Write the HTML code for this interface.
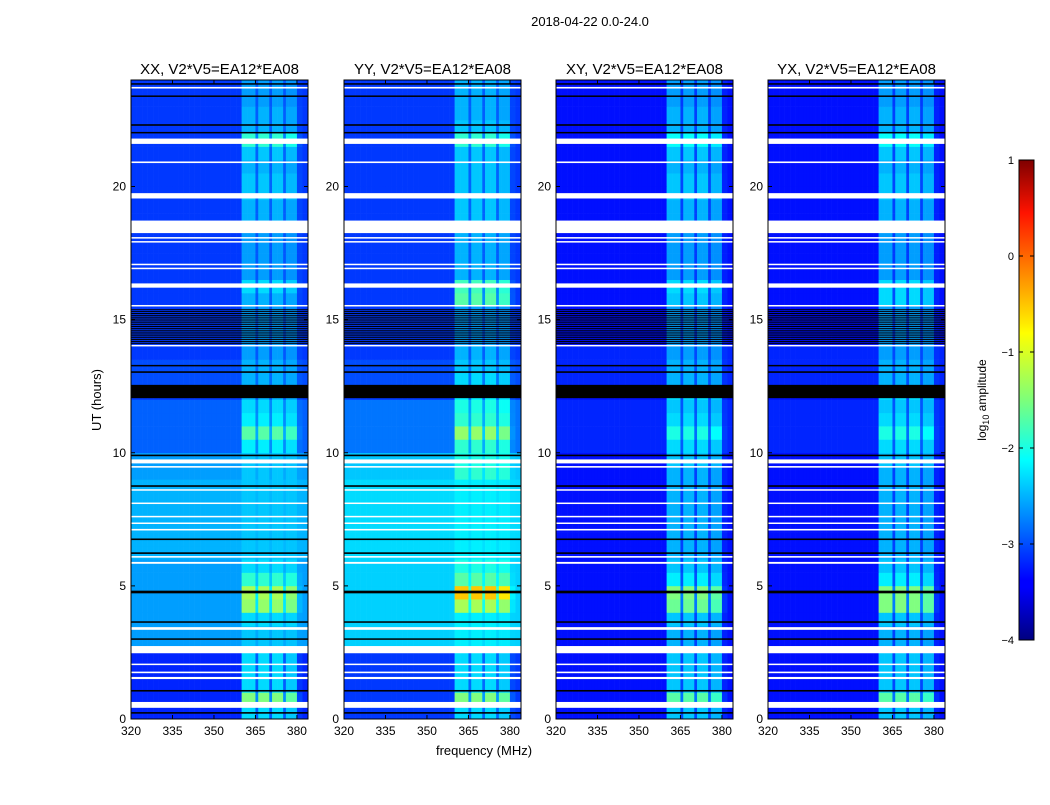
<!DOCTYPE html>
<html><head><meta charset="utf-8"><style>
body{margin:0;background:#fff;width:1050px;height:800px;overflow:hidden;font-family:"Liberation Sans",sans-serif}
</style></head><body>
<svg id="root" width="1050" height="800" xmlns="http://www.w3.org/2000/svg" font-family="Liberation Sans, sans-serif">
<rect width="1050" height="800" fill="#fff"/>
<text x="590" y="26" font-size="13" text-anchor="middle">2018-04-22 0.0-24.0</text>
<text transform="translate(101,400) rotate(-90)" font-size="13" text-anchor="middle">UT (hours)</text>
<text x="484" y="755" font-size="13" text-anchor="middle">frequency (MHz)</text>
<g id="panels"></g>
<defs><linearGradient id="jet" x1="0" y1="1" x2="0" y2="0">
<stop offset="0" stop-color="#00007f"/><stop offset="0.11" stop-color="#0000ff"/><stop offset="0.125" stop-color="#0000ff"/><stop offset="0.34" stop-color="#00dcff"/><stop offset="0.375" stop-color="#00ffff"/><stop offset="0.5" stop-color="#7dff7a"/><stop offset="0.64" stop-color="#ffff00"/><stop offset="0.66" stop-color="#ffea00"/><stop offset="0.89" stop-color="#ff1300"/><stop offset="1" stop-color="#7f0000"/></linearGradient></defs>
<rect x="1019" y="160" width="15" height="480" fill="url(#jet)" stroke="#000" stroke-width="1"/>
<text transform="translate(986,400) rotate(-90)" font-size="12" text-anchor="middle">log<tspan font-size="9" dy="3">10</tspan><tspan dy="-3"> amplitude</tspan></text>
<g id="cbticks"></g>
</svg>
<script>
const panelTitles=["XX, V2*V5=EA12*EA08","YY, V2*V5=EA12*EA08","XY, V2*V5=EA12*EA08","YX, V2*V5=EA12*EA08"];
const freqTicks=[320,335,350,365,380];
const timeTicks=[0,5,10,15,20];
const cbTicks=[1,0,-1,-2,-3,-4];
const bandProfile=[0,0,0,0,0,0,0,0,0,0,0,0,0,0,0,0,0,0,0,0,0,0,0,0,0,0,0,0,0,0,0,0,0,0,0,0,0,0,0,0,1,1,1,1,1,0.3,1,1,1,1,0.3,1,1,1,1,0.3,0.9,0.9,0.9,0.9,0.1,0.1,0,0];
const baseXX=[-3.2,-3.2,-3.2,-3.2,-3.2,-2.6,-2.6,-2.6,-2.6,-2.6,-2.6,-2.6,-2.5,-2.5,-2.5,-2.5,-2.5,-2.5,-2.6,-2.6,-2.9,-2.9,-2.9,-2.9,-3.1,-3.0,-3.0,-3.1,-3.1,-3.1,-3.1,-3.1,-3.1,-3.1,-3.1,-3.1,-3.1,-3.1,-3.1,-3.1,-3.1,-3.1,-3.1,-3.1,-3.1,-3.1,-3.1,-3.1];
const bandXX=[-2.3,-1.5,-2.3,-2.3,-2.3,-2.4,-2.4,-2.3,-1.4,-1.3,-1.9,-2.3,-2.4,-2.4,-2.4,-2.4,-2.4,-2.4,-2.4,-2.4,-2.2,-1.7,-2.2,-2.3,-2.5,-2.5,-2.5,-2.6,-2.6,-2.6,-2.6,-2.5,-2.3,-2.6,-2.6,-2.6,-2.6,-2.5,-2.5,-2.4,-2.4,-2.5,-2.4,-1.9,-2.5,-2.5,-2.6,-2.6];
const baseYY=[-3.1,-3.1,-3.1,-3.1,-3.1,-2.35,-2.35,-2.35,-2.35,-2.35,-2.35,-2.35,-2.3,-2.3,-2.3,-2.3,-2.3,-2.3,-2.4,-2.4,-2.8,-2.8,-2.8,-2.8,-3.1,-3.0,-3.0,-3.1,-3.1,-3.1,-3.1,-3.1,-3.1,-3.1,-3.1,-3.1,-3.1,-3.1,-3.1,-3.1,-3.1,-3.1,-3.1,-3.1,-3.1,-3.1,-3.1,-3.1];
const bandYY=[-2.3,-1.5,-2.3,-2.3,-2.3,-2.2,-2.2,-2.2,-1.3,-0.6,-1.7,-2.0,-2.2,-2.2,-2.2,-2.2,-2.2,-2.2,-1.9,-2.0,-1.9,-1.4,-1.9,-2.0,-2.2,-2.3,-2.4,-2.5,-2.6,-2.6,-2.6,-1.7,-1.8,-2.5,-2.5,-2.5,-2.5,-2.4,-2.4,-2.4,-2.4,-2.4,-2.4,-1.9,-2.4,-2.5,-2.5,-2.5];
const baseXY=[-3.3,-3.3,-3.3,-3.3,-3.3,-3.3,-3.3,-3.3,-3.3,-3.3,-3.3,-3.3,-3.3,-3.3,-3.3,-3.3,-3.3,-3.3,-3.3,-3.3,-3.2,-3.2,-3.2,-3.2,-3.3,-3.2,-3.2,-3.2,-3.3,-3.3,-3.3,-3.3,-3.3,-3.3,-3.3,-3.3,-3.3,-3.3,-3.3,-3.3,-3.3,-3.3,-3.3,-3.3,-3.3,-3.3,-3.3,-3.3];
const bandXY=[-2.4,-1.7,-2.4,-2.4,-2.4,-2.5,-2.5,-2.4,-1.6,-1.5,-2.2,-2.4,-2.5,-2.5,-2.5,-2.5,-2.5,-2.5,-2.5,-2.4,-2.3,-2.0,-2.3,-2.4,-2.3,-2.5,-2.5,-2.6,-2.6,-2.6,-2.6,-2.4,-2.3,-2.6,-2.6,-2.6,-2.6,-2.5,-2.5,-2.4,-2.4,-2.5,-2.4,-2.1,-2.5,-2.5,-2.6,-2.6];
const baseYX=baseXY;
const bandYX=[-2.4,-1.7,-2.4,-2.4,-2.4,-2.5,-2.5,-2.4,-1.5,-1.5,-2.2,-2.4,-2.5,-2.5,-2.5,-2.5,-2.5,-2.5,-2.5,-2.4,-2.3,-2.0,-2.3,-2.4,-2.3,-2.5,-2.5,-2.6,-2.6,-2.6,-2.6,-2.3,-2.3,-2.6,-2.6,-2.6,-2.6,-2.5,-2.5,-2.4,-2.4,-2.5,-2.4,-2.1,-2.5,-2.5,-2.6,-2.6];
const bases=[baseXX,baseYY,baseXY,baseYX];
const bands=[bandXX,bandYY,bandXY,bandYX];
const whiteGaps=[[0.42,0.64],[1.5,1.58],[1.72,1.78],[2.03,2.08],[2.47,2.74],[3.35,3.45],[5.83,5.9],[6.06,6.12],[7.08,7.14],[7.33,7.38],[7.58,7.63],[8.08,8.13],[8.58,8.63],[9.44,9.5],[9.6,9.75],[14.0,14.05],[15.5,15.55],[16.2,16.36],[16.9,16.95],[17.05,17.1],[17.9,17.95],[18.05,18.1],[18.25,18.72],[19.55,19.75],[20.88,20.94],[21.6,21.8],[23.68,23.74]];
const blackLines=[[0.2,0.26],[1.03,1.09],[2.98,3.03],[3.62,3.67],[4.72,4.82],[6.2,6.26],[6.72,6.78],[8.72,8.78],[9.87,9.93],[12.05,12.55],[13.0,13.06],[13.25,13.3],[22.0,22.05],[22.28,22.34],[23.38,23.42],[23.83,23.88]];
const stripeStart=14.1, stripeEnd=15.4;

const NS="http://www.w3.org/2000/svg";
const panelX=[131,344,556,768], PW=177, PT=80, PB=719;
const fMin=320,fMax=384,tMax=24;
function xScale(p,f){return panelX[p]+(f-fMin)/(fMax-fMin)*PW;}
function yScale(t){return PB-t/tMax*(PB-PT);}
function jet(v){let x=(v+4)/5;x=Math.max(0,Math.min(1,x));
 const r=Math.max(0,Math.min(1,1.5-Math.abs(4*x-3))),g=Math.max(0,Math.min(1,1.5-Math.abs(4*x-2))),b=Math.max(0,Math.min(1,1.5-Math.abs(4*x-1)));
 return `rgb(${Math.round(r*255)},${Math.round(g*255)},${Math.round(b*255)})`;}
function mk(tag,attrs,parent){const e=document.createElementNS(NS,tag);for(const k in attrs)e.setAttribute(k,attrs[k]);parent.appendChild(e);return e;}
const panels=document.getElementById('panels');
for(let p=0;p<4;p++){
 const g=mk('g',{},panels);
 
 
 const nT=bases[p].length, dt=tMax/nT, nF=bandProfile.length, df=(fMax-fMin)/nF;
 for(let i=0;i<nT;i++){
  const y0=yScale((i+1)*dt), y1=yScale(i*dt);
  for(let j=0;j<nF;j++){
   const v=bases[p][i]+(bands[p][i]-bases[p][i])*bandProfile[j];
   const x0=xScale(p,fMin+j*df), x1=xScale(p,fMin+(j+1)*df);
   const r=mk('rect',{x:x0.toFixed(2),y:y0.toFixed(2),width:(x1-x0+0.3).toFixed(2),height:(y1-y0+0.3).toFixed(2),fill:jet(v)},g);
   
   
  }
 }
 for(let t=stripeStart;t<stripeEnd;t+=0.07){
  const r=mk('rect',{x:panelX[p],y:yScale(t+0.03),width:PW,height:1,fill:'#000'},g);
  
  
 }
 for(const [a,b] of blackLines){
  const r=mk('rect',{x:panelX[p],y:yScale(b),width:PW,height:Math.max(1.5,yScale(a)-yScale(b)),fill:'#000'},g);
  
  
 }
 for(const [a,b] of whiteGaps){
  const r=mk('rect',{x:panelX[p],y:yScale(b),width:PW,height:Math.max(1.5,yScale(a)-yScale(b)),fill:'#fff'},g);
  
  
 }
 const fr=mk('rect',{x:panelX[p],y:PT,width:PW,height:PB-PT,fill:'none',stroke:'#000','stroke-width':1},g);
 
 
 const tt=mk('text',{x:panelX[p]+PW/2,y:74,'font-size':15,'text-anchor':'middle'},g);
 tt.textContent=panelTitles[p];
 
 
 for(const f of freqTicks){
  const x=xScale(p,f);
  mk('line',{x1:x,x2:x,y1:PB,y2:PB-4,stroke:'#000'},g);
  mk('line',{x1:x,x2:x,y1:PT,y2:PT+4,stroke:'#000'},g);
  const l=mk('text',{x:x,y:PB+16,'font-size':12,'text-anchor':'middle'},g);
  l.textContent=f;
  
  
 }
 for(const t of timeTicks){
  const y=yScale(t);
  mk('line',{x1:panelX[p],x2:panelX[p]+4,y1:y,y2:y,stroke:'#000'},g);
  mk('line',{x1:panelX[p]+PW,x2:panelX[p]+PW-4,y1:y,y2:y,stroke:'#000'},g);
  const l=mk('text',{x:panelX[p]-5,y:y+4,'font-size':12,'text-anchor':'end'},g);
  l.textContent=t;
  
  
 }
}
const cbg=document.getElementById('cbticks');
for(const v of cbTicks){
 const y=640-(v+4)/5*480;
 mk('line',{x1:1019,x2:1023,y1:y,y2:y,stroke:'#000'},cbg);
 mk('line',{x1:1034,x2:1030,y1:y,y2:y,stroke:'#000'},cbg);
 const l=mk('text',{x:1014,y:y+4,'font-size':11,'text-anchor':'end'},cbg);
 l.textContent=v<0?'\u2212'+(-v):String(v);
 
 
}
</script>
</body></html>
